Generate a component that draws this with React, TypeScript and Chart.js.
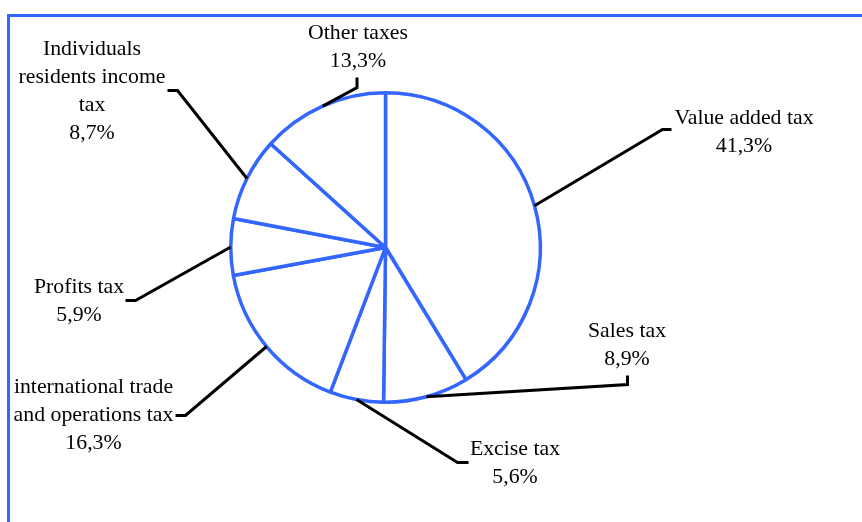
import React, { useEffect, useRef } from "react";
import { Chart, registerables } from "chart.js";

Chart.register(...registerables);

const categories: string[][] = [
  ["Value added tax"],
  ["Sales tax"],
  ["Excise tax"],
  ["international trade", "and operations tax"],
  ["Profits tax"],
  ["Individuals", "residents income", "tax"],
  ["Other taxes"],
];
const shares: number[] = [41.3, 8.9, 5.6, 16.3, 5.9, 8.7, 13.3];
const shareLabels: string[] = ["41,3%", "8,9%", "5,6%", "16,3%", "5,9%", "8,7%", "13,3%"];

// label annotation layout, offsets from pie centre (px)
const elbowOffsets: number[][] = [
  [277, -118], [242, 137], [72, 215], [-200, 168], [-250, 53], [-208, -157], [-28.5, -160],
];
const tickEndOffsets: number[][] = [
  [286, -118], [242, 128], [83, 215], [-210, 168], [-260, 53], [-218, -157], [-28.5, -170],
];
const textOffsets: number[][] = [
  [358.5, -124], [241.5, 89], [129.5, 207], [-292, 145], [-306.5, 45], [-293.5, -193], [-27.5, -209],
];

const BLUE = "#3366FF";
const FONT = '21.8px "Liberation Serif", "Times New Roman", serif';
const LINE_H = 28;

const labelPlugin = {
  id: "leaderLabels",
  beforeDraw(chart: any) {
    const ctx = chart.ctx;
    ctx.save();
    ctx.strokeStyle = BLUE;
    ctx.lineWidth = 3;
    ctx.beginPath();
    ctx.moveTo(8.5, chart.height);
    ctx.lineTo(8.5, 15.5);
    ctx.lineTo(chart.width, 15.5);
    ctx.stroke();
    ctx.restore();
  },
  afterDraw(chart: any) {
    const ctx = chart.ctx;
    const arcs = chart.getDatasetMeta(0).data;
    ctx.save();
    arcs.forEach((arc: any, i: number) => {
      const cx = arc.x;
      const cy = arc.y;
      const mid = (arc.startAngle + arc.endAngle) / 2;
      const r = arc.outerRadius;
      const sx = cx + Math.cos(mid) * r;
      const sy = cy + Math.sin(mid) * r;
      ctx.strokeStyle = "#000";
      ctx.lineWidth = 3;
      ctx.lineJoin = "miter";
      ctx.beginPath();
      ctx.moveTo(sx, sy);
      ctx.lineTo(cx + elbowOffsets[i][0], cy + elbowOffsets[i][1]);
      ctx.lineTo(cx + tickEndOffsets[i][0], cy + tickEndOffsets[i][1]);
      ctx.stroke();

      ctx.fillStyle = "#000";
      ctx.font = FONT;
      ctx.textAlign = "center";
      ctx.textBaseline = "alphabetic";
      const lines = [...categories[i], shareLabels[i]];
      lines.forEach((t, k) => {
        ctx.fillText(t, cx + textOffsets[i][0], cy + textOffsets[i][1] + k * LINE_H);
      });
    });
    ctx.restore();
  },
};

export default function App() {
  const ref = useRef<HTMLCanvasElement>(null);
  useEffect(() => {
    if (!ref.current) return;
    const chart = new Chart(ref.current, {
      type: "pie",
      data: {
        labels: categories.map((c) => c.join(" ")),
        datasets: [
          {
            data: shares,
            backgroundColor: "#ffffff",
            borderColor: BLUE,
            borderWidth: 3.5,
          },
        ],
      },
      options: {
        responsive: false,
        animation: false,
        layout: { padding: { left: 229, right: 320, top: 91, bottom: 118 } },
        plugins: { legend: { display: false }, tooltip: { enabled: false } },
      },
      plugins: [labelPlugin],
    });
    return () => chart.destroy();
  }, []);
  return (
    <div style={{ position: "absolute", left: 0, top: 0, width: 862, height: 522, background: "#fff" }}>
      <canvas ref={ref} width={862} height={522} style={{ display: "block" }} />
    </div>
  );
}
